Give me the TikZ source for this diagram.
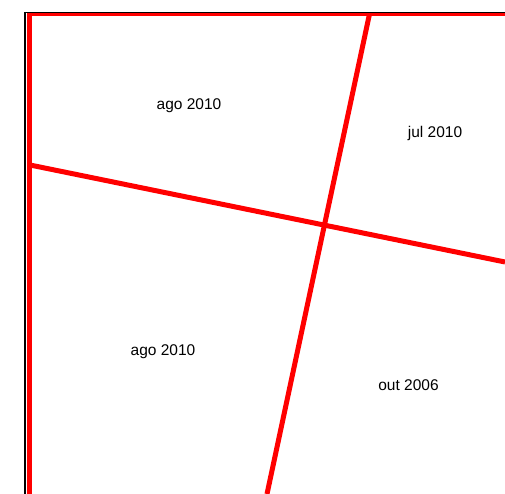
\documentclass[tikz,border=0pt]{standalone}
\usepackage{fontspec}
\setmainfont{Liberation Sans}
\begin{document}
\begin{tikzpicture}[x=1pt,y=-1pt,
  redline/.style={draw=red,line width=5pt},
  frameline/.style={draw=black,line width=1.2pt},
  lbl/.style={font=\fontsize{15.5}{17}\selectfont,inner sep=0pt,anchor=center}]
\useasboundingbox (0,0) rectangle (505,494);
% frame
\coordinate (fTL) at (25,12.3);
\coordinate (fTR) at (505,12.3);
\coordinate (fBL) at (25,494);
\draw[frameline] (fBL) -- (fTL) -- (fTR);
\coordinate (tL) at (27,14.8);
\coordinate (tR) at (505,14.8);
\draw[draw=red,line width=3pt] (tL) -- (tR);
% red boundary lines
\coordinate (vT) at (29.6,13);
\coordinate (vB) at (29.6,494);
\draw[redline] (vT) -- (vB);
\coordinate (aT) at (369.5,14);
\coordinate (aB) at (267,494);
\draw[redline] (aT) -- (aB);
\coordinate (bL) at (30,165);
\coordinate (bR) at (505,262);
\draw[redline] (bL) -- (bR);
% labels
\node[lbl] (l1) at (189,106) {ago 2010};
\node[lbl] (l2) at (435,133) {jul 2010};
\node[lbl] (l3) at (163,352) {ago 2010};
\node[lbl] (l4) at (408.5,385) {out 2006};
\end{tikzpicture}
\end{document}
